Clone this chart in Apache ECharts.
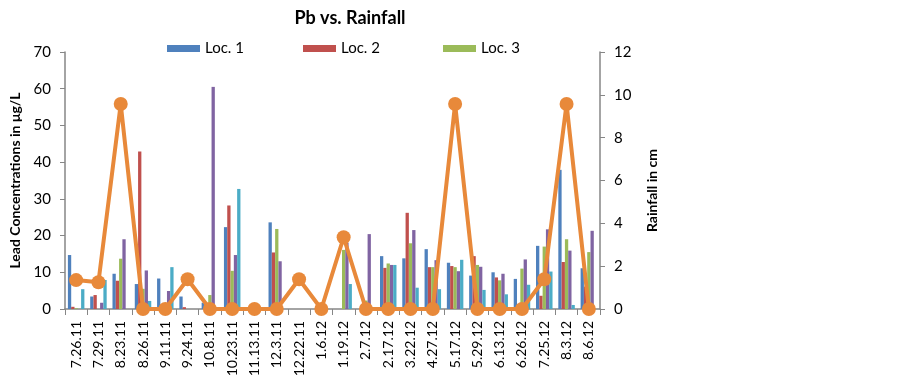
<!DOCTYPE html>
<html>
<head>
<meta charset="utf-8">
<script src="https://cdn.jsdelivr.net/npm/echarts@6/dist/echarts.min.js"></script>
<style>
html, body { margin: 0; padding: 0; background: #fff; }
#main { width: 903px; height: 390px; }
</style>
</head>
<body>
<div id="main"></div>
<script>
var dates = ['7.26.11', '7.29.11', '8.23.11', '8.26.11', '9.11.11', '9.24.11', '10.8.11', '10.23.11',
	'11.13.11', '12.3.11', '12.22.11', '1.6.12', '1.19.12', '2.7.12', '2.17.12', '3.22.12',
	'4.27.12', '5.17.12', '5.29.12', '6.13.12', '6.26.12', '7.25.12', '8.3.12', '8.6.12'];

// lead, µg/L
var loc1 = [14.7, 3.4, 9.6, 6.8, 8.3, 3.4, 1.7, 22.3, 0, 23.6, 0, 0, 0, 0, 14.4, 13.8, 16.3, 12.6, 9.1, 10.0, 8.2, 17.2, 37.9, 11.1];
var loc2 = [0.6, 3.8, 7.7, 42.9, 0, 0.5, 0, 28.2, 0, 15.4, 0, 0, 0, 0, 11.2, 26.2, 11.4, 11.7, 14.4, 8.6, 0, 3.6, 12.8, 6.1];
var loc3 = [0.2, 0, 13.7, 5.5, 0, 0, 3.8, 10.4, 0, 21.8, 0, 0, 16.1, 2.3, 12.4, 17.9, 11.4, 11.4, 12.0, 7.8, 11.0, 17.0, 19.0, 15.5];
var loc4 = [0, 1.7, 19.0, 10.5, 4.9, 0, 60.5, 14.7, 0, 13.0, 0, 0, 18.0, 20.4, 12.0, 21.5, 13.3, 10.3, 11.5, 9.6, 13.5, 21.7, 15.9, 21.3];
var loc5 = [5.4, 7.9, 0, 2.2, 11.4, 0, 0, 32.7, 0, 0, 0, 0, 6.8, 0, 12.0, 5.8, 5.4, 13.4, 5.2, 4.0, 6.6, 10.2, 1.1, 0];

// rainfall, cm
var rain = [1.35, 1.25, 9.57, 0, 0, 1.39, 0, 0, 0, 0, 1.39, 0, 3.35, 0, 0, 0, 0, 9.57, 0, 0, 0, 1.39, 9.57, 0];

var chart = echarts.init(document.getElementById('main'));
var font = 'Lato, "Liberation Sans", sans-serif';
var axisGray = '#868686';

function barSeries(name, data, color) {
	return {
		name: name,
		type: 'bar',
		data: data,
		barGap: '0%',
		barCategoryGap: '26%',
		itemStyle: { color: color },
		yAxisIndex: 0
	};
}

function legendAt(left, name) {
	return {
		left: left,
		top: 36,
		data: [name],
		itemWidth: 33,
		itemHeight: 7,
		itemGap: 4,
		icon: 'rect',
		textStyle: { fontFamily: font, fontSize: 15, color: '#000' }
	};
}

chart.setOption({
	animation: false,
	textStyle: { fontFamily: font },
	title: {
		text: 'Pb vs. Rainfall',
		left: 345,
		textAlign: 'center',
		top: 4,
		textStyle: { fontFamily: font, fontSize: 18, fontWeight: 'bold', color: '#000' }
	},
	legend: [legendAt(162, 'Loc. 1'), legendAt(298, 'Loc. 2'), legendAt(438, 'Loc. 3')],
	grid: { left: 65, right: 303, top: 52, bottom: 81 },
	xAxis: {
		type: 'category',
		data: dates,
		axisLine: { lineStyle: { color: axisGray, width: 1.5 } },
		axisTick: { show: true, length: 6, lineStyle: { color: axisGray } },
		axisLabel: { rotate: 90, interval: 0, color: '#000', fontSize: 14, fontFamily: font, margin: 12 }
	},
	yAxis: [{
		type: 'value',
		min: 0, max: 70, interval: 10,
		name: 'Lead Concentrations in μg/L',
		nameLocation: 'middle',
		nameGap: 41,
		nameTextStyle: { fontFamily: font, fontSize: 14, fontWeight: 'bold', color: '#000' },
		axisLine: { show: true, lineStyle: { color: axisGray, width: 1.5 } },
		axisTick: { show: true, length: 5, lineStyle: { color: axisGray } },
		axisLabel: { color: '#000', fontSize: 15, fontFamily: font, margin: 14 },
		splitLine: { show: false }
	}, {
		type: 'value',
		min: 0, max: 12, interval: 2,
		name: 'Rainfall in cm',
		nameLocation: 'middle',
		nameGap: 45,
		nameRotate: 90,
		nameTextStyle: { fontFamily: font, fontSize: 14, fontWeight: 'bold', color: '#000', padding: [0, 20, 0, 0] },
		position: 'right',
		axisLine: { show: true, lineStyle: { color: axisGray, width: 1.5 } },
		axisTick: { show: true, length: 5, lineStyle: { color: axisGray } },
		axisLabel: { color: '#000', fontSize: 15, fontFamily: font, margin: 14 },
		splitLine: { show: false }
	}],
	series: [
		barSeries('Loc. 1', loc1, '#4F81BD'),
		barSeries('Loc. 2', loc2, '#C0504D'),
		barSeries('Loc. 3', loc3, '#9BBB59'),
		barSeries('Loc. 4', loc4, '#8064A2'),
		barSeries('Loc. 5', loc5, '#4BACC6'),
		{
			name: 'Rainfall',
			type: 'line',
			yAxisIndex: 1,
			data: rain,
			symbol: 'circle',
			symbolSize: 14,
			lineStyle: { color: '#E8893A', width: 4 },
			itemStyle: { color: '#E8893A' },
			z: 5
		}
	]
});
</script>
</body>
</html>
